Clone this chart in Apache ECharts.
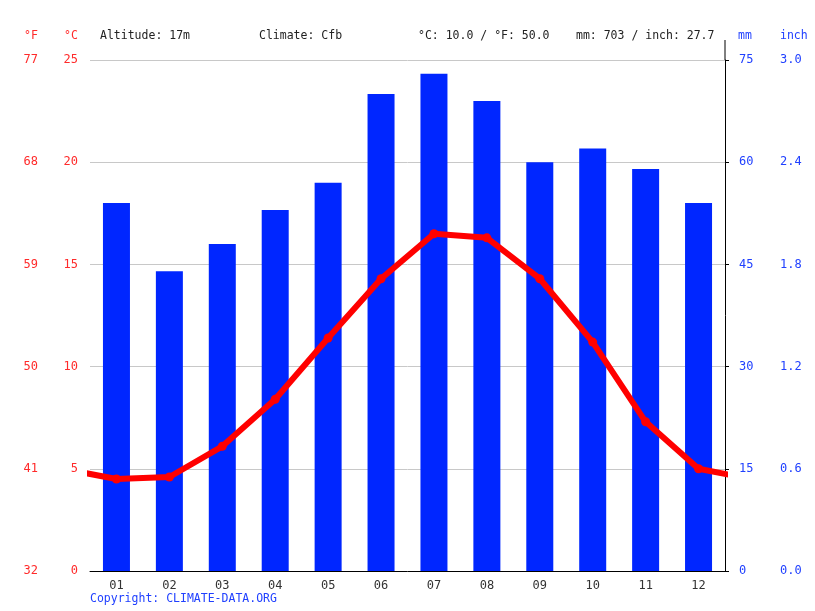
<!DOCTYPE html>
<html>
<head>
<meta charset="utf-8">
<script src="https://cdn.jsdelivr.net/npm/echarts@6/dist/echarts.min.js"></script>
<style>
html,body{margin:0;padding:0;background:#fff;}
#main{width:815px;height:611px;}
</style>
</head>
<body>
<div id="main"></div>
<script>
var months = ['01','02','03','04','05','06','07','08','09','10','11','12'];
var precip = [54, 44, 48, 53, 57, 70, 73, 69, 60, 62, 59, 54];
var temps = [4.5, 4.6, 6.1, 8.4, 11.4, 14.3, 16.5, 16.3, 14.3, 11.2, 7.3, 5.0];
var headTexts = ['Altitude: 17m', 'Climate: Cfb', '°C: 10.0 / °F: 50.0', 'mm: 703 / inch: 27.7'];

var font = 'DejaVu Sans Mono';
var red = '#ff2a2a', blue = '#2040ff';
var hf = '11.5px ' + font;

// line points at month centres, plus Dec before Jan and Jan after Dec (clipped at the edges)
var linePts = [{value: [-0.5, temps[11]], symbol: 'none'}];
for (var i = 0; i < temps.length; i++) linePts.push([i + 0.5, temps[i]]);
linePts.push({value: [12.5, temps[0]], symbol: 'none'});

var myChart = echarts.init(document.getElementById('main'));
var option = {
  animation: false,
  grid: {left: 90, right: 90, top: 60, bottom: 40},
  graphic: [
    {type: 'text', left: 24, top: 30, style: {text: '°F', fill: red, font: hf}},
    {type: 'text', left: 64, top: 30, style: {text: '°C', fill: red, font: hf}},
    {type: 'text', left: 100, top: 30, style: {text: headTexts[0], fill: '#222', font: hf}},
    {type: 'text', left: 259, top: 30, style: {text: headTexts[1], fill: '#222', font: hf}},
    {type: 'text', left: 418, top: 30, style: {text: headTexts[2], fill: '#222', font: hf}},
    {type: 'text', left: 576, top: 30, style: {text: headTexts[3], fill: '#222', font: hf}},
    {type: 'text', left: 738, top: 30, style: {text: 'mm', fill: blue, font: hf}},
    {type: 'text', left: 780, top: 30, style: {text: 'inch', fill: blue, font: hf}},
    {type: 'line', shape: {x1: 725, y1: 40, x2: 725, y2: 60}, style: {stroke: '#000', lineWidth: 1}},
    {type: 'text', left: 90, top: 593, style: {text: 'Copyright: CLIMATE-DATA.ORG', fill: blue, font: hf}}
  ],
  xAxis: [{
    type: 'category',
    data: months,
    axisLine: {lineStyle: {color: '#000'}},
    axisTick: {length: 5, lineStyle: {color: '#000'}},
    axisLabel: {color: '#333', fontFamily: font, fontSize: 12, margin: 9}
  }, {
    type: 'value', min: 0, max: 12, show: false
  }],
  yAxis: [{
    type: 'value', min: 0, max: 25, interval: 5, position: 'left',
    axisLine: {show: false}, axisTick: {show: false},
    axisLabel: {color: red, fontFamily: font, fontSize: 12, margin: 12},
    splitLine: {lineStyle: {color: '#c8c8c8'}}
  }, {
    type: 'value', min: 0, max: 25, interval: 5, position: 'left', offset: 40,
    axisLine: {show: false}, axisTick: {show: false},
    axisLabel: {color: red, fontFamily: font, fontSize: 12, margin: 12,
      formatter: function (v) { return Math.round(v * 9 / 5 + 32); }},
    splitLine: {show: false}
  }, {
    type: 'value', min: 0, max: 75, interval: 15, position: 'right',
    axisLine: {show: true, lineStyle: {color: '#000'}},
    axisTick: {show: true, length: 4, lineStyle: {color: '#000'}},
    axisLabel: {color: blue, fontFamily: font, fontSize: 12, margin: 14},
    splitLine: {show: false}
  }, {
    type: 'value', min: 0, max: 75, interval: 15, position: 'right', offset: 41,
    axisLine: {show: false}, axisTick: {show: false},
    axisLabel: {color: blue, fontFamily: font, fontSize: 12, margin: 14,
      formatter: function (v) { return (v / 25).toFixed(1); }},
    splitLine: {show: false}
  }],
  series: [{
    name: 'mm', type: 'bar', yAxisIndex: 2, data: precip,
    barWidth: 27, itemStyle: {color: '#0026ff'}
  }, {
    name: '°C', type: 'line', xAxisIndex: 1, yAxisIndex: 0, data: linePts,
    symbol: 'circle', symbolSize: 9, clip: true,
    lineStyle: {color: '#ff0000', width: 6},
    itemStyle: {color: '#ff0000'}, z: 5
  }]
};
myChart.setOption(option);
</script>
</body>
</html>
